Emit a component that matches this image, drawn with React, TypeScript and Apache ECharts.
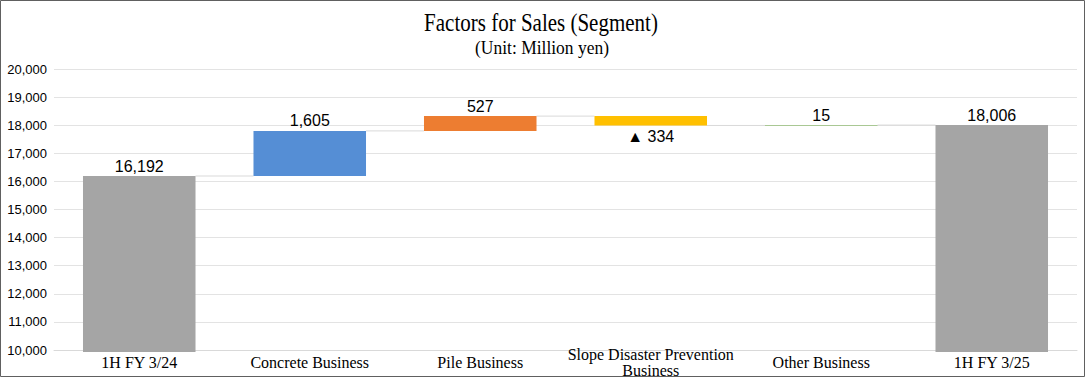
import React, { useEffect, useRef } from "react";
import * as echarts from "echarts";

const categories = [
  "1H FY 3/24",
  "Concrete Business",
  "Pile Business",
  "Slope Disaster Prevention\nBusiness",
  "Other Business",
  "1H FY 3/25",
];
const amounts = [16192, 1605, 527, -334, 15, 18006];
const isTotal = [true, false, false, false, false, true];
const valueLabels = ["16,192", "1,605", "527", "▲ 334", "15", "18,006"];
const barColors = ["#A5A5A5", "#558ED5", "#ED7D31", "#FFC000", "#70AD47", "#A5A5A5"];
const yTicks = { min: 10000, max: 20000, interval: 1000 };
const titleText = "Factors for Sales (Segment)";
const subtitleText = "(Unit: Million yen)";

function buildBars() {
  let run = 0;
  const bars: number[][] = [];
  const connectors: number[][] = [];
  amounts.forEach((a, i) => {
    let low: number, high: number;
    if (isTotal[i]) {
      low = 0;
      high = a;
      run = a;
    } else {
      low = run;
      high = run + a;
      run = high;
    }
    bars.push([i, low, high]);
    if (i < amounts.length - 1) connectors.push([i, run]);
  });
  return { bars, connectors };
}

export default function App() {
  const ref = useRef<HTMLDivElement>(null);
  useEffect(() => {
    if (!ref.current) return;
    const chart = echarts.init(ref.current, undefined, { renderer: "svg" });
    const { bars, connectors } = buildBars();
    const BAR_RATIO = 0.66;
    chart.setOption({
      animation: false,
      backgroundColor: "#ffffff",
      graphic: [
        {
          type: "text",
          x: 541,
          y: 22,
          scaleX: 0.84,
          style: {
            text: titleText,
            fontFamily: "Liberation Serif",
            fontSize: 25,
            fill: "#000",
            align: "center",
            verticalAlign: "middle",
          },
          silent: true,
        },
        {
          type: "text",
          x: 542,
          y: 48,
          scaleX: 0.92,
          style: {
            text: subtitleText,
            fontFamily: "Liberation Serif",
            fontSize: 19,
            fill: "#000",
            align: "center",
            verticalAlign: "middle",
          },
          silent: true,
        },
        {
          type: "rect",
          shape: { x: 0.5, y: 0.5, width: 1084, height: 376 },
          style: { fill: "none", stroke: "#606060", lineWidth: 1 },
          silent: true,
          z: 100,
        },
      ],
      grid: { left: 54, right: 9, top: 69, bottom: 28, containLabel: false },
      xAxis: {
        type: "category",
        data: categories,
        axisLine: { show: true, lineStyle: { color: "#D9D9D9" } },
        axisTick: { show: false },
        axisLabel: {
          interval: 0,
          fontFamily: "Liberation Serif",
          fontSize: 16,
          color: "#000",
          verticalAlign: "middle",
          lineHeight: 16,
          margin: 12,
        },
      },
      yAxis: {
        type: "value",
        min: yTicks.min,
        max: yTicks.max,
        interval: yTicks.interval,
        axisLine: { show: false },
        axisTick: { show: false },
        splitLine: { lineStyle: { color: "#E3E3E3" } },
        axisLabel: {
          fontFamily: "Liberation Sans",
          fontSize: 13,
          color: "#000",
          margin: 7,
          formatter: (v: number) => v.toLocaleString("en-US"),
        },
      },
      series: [
        {
          type: "custom",
          name: "connectors",
          data: connectors,
          z: 1,
          renderItem: (params: any, api: any) => {
            const i = api.value(0);
            const lvl = api.value(1);
            const bw = api.size([1, 0])[0] * BAR_RATIO;
            const a = api.coord([i, lvl]);
            const b = api.coord([i + 1, lvl]);
            return {
              type: "line",
              shape: { x1: a[0] + bw / 2, y1: a[1], x2: b[0] - bw / 2, y2: b[1] },
              style: { stroke: "#D9D9D9", lineWidth: 1 },
            };
          },
        },
        {
          type: "custom",
          name: "bars",
          data: bars,
          z: 2,
          renderItem: (params: any, api: any) => {
            const i = api.value(0);
            const low = api.value(1);
            const high = api.value(2);
            const top = api.coord([i, Math.max(low, high)]);
            const bot = api.coord([i, Math.min(low, high)]);
            const bw = api.size([1, 0])[0] * BAR_RATIO;
            const cs = params.coordSys;
            const rect = echarts.graphic.clipRectByRect(
              { x: top[0] - bw / 2, y: top[1], width: bw, height: bot[1] - top[1] },
              { x: cs.x, y: cs.y, width: cs.width, height: cs.height + 2 }
            );
            const negative = high < low;
            const children: any[] = [];
            if (rect) {
              children.push({
                type: "rect",
                shape: rect,
                style: { fill: barColors[i] },
              });
            }
            children.push({
              type: "text",
              x: top[0],
              y: negative ? bot[1] + 3 : top[1] - 2,
              style: {
                text: valueLabels[i],
                fontFamily: "Liberation Sans",
                fontSize: 16,
                fill: "#000",
                align: "center",
                verticalAlign: negative ? "top" : "bottom",
              },
            });
            return { type: "group", children };
          },
        },
      ],
    });
    return () => chart.dispose();
  }, []);
  return (
    <div
      ref={ref}
      style={{ position: "absolute", left: 0, top: 0, width: 1086, height: 378 }}
    />
  );
}
